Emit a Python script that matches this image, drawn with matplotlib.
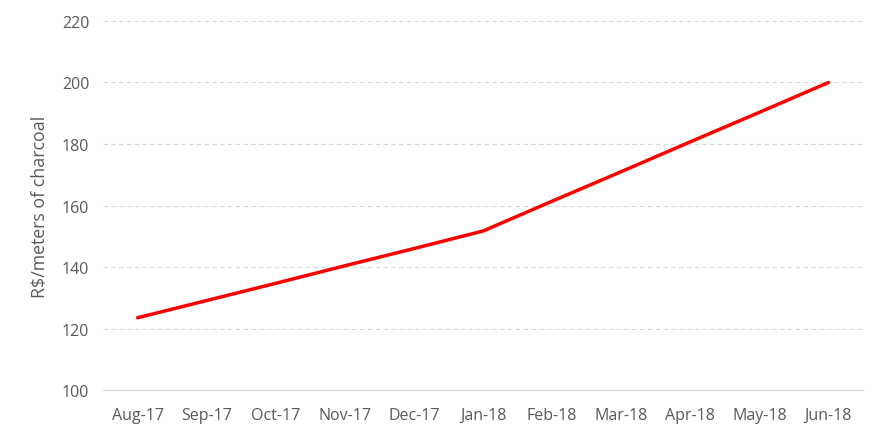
import matplotlib
matplotlib.use('Agg')
import matplotlib.pyplot as plt

# Charcoal price series
months = ['Aug-17', 'Sep-17', 'Oct-17', 'Nov-17', 'Dec-17', 'Jan-18',
          'Feb-18', 'Mar-18', 'Apr-18', 'May-18', 'Jun-18']
price = [123.5, 129.1, 134.7, 140.4, 146.0, 151.7,
         161.4, 171.0, 180.7, 190.3, 200.0]
yticks = [100, 120, 140, 160, 180, 200, 220]

plt.rcParams['font.family'] = ['Open Sans', 'DejaVu Sans']
grey = '#595959'

fig = plt.figure(figsize=(8.86, 4.39), dpi=100)
ax = fig.add_axes([0.1163, 0.1093, 0.8577, 0.8406])

x = list(range(len(months)))
ax.plot(x, price, color='#ff0000', linewidth=2.5, solid_capstyle='round', zorder=3)

ax.set_xlim(-0.5, len(months) - 0.5)
ax.set_ylim(100, 220)
ax.set_xticks(x)
ax.set_xticklabels(months)
ax.set_yticks(yticks)

ax.grid(axis='y', color='#d9d9d9', linestyle=(0, (4, 3)), linewidth=0.8)
for s in ['top', 'right', 'left']:
    ax.spines[s].set_visible(False)
ax.spines['bottom'].set_color('#d9d9d9')
ax.spines['bottom'].set_linewidth(1.0)

ax.tick_params(axis='both', length=0, colors=grey, labelsize=11.5)
ax.tick_params(axis='x', pad=12)
ax.tick_params(axis='y', pad=10)
ax.set_ylabel('R$/meters of charcoal', color=grey, fontsize=12.8, labelpad=9)

fig.savefig('out.png', dpi=100)
